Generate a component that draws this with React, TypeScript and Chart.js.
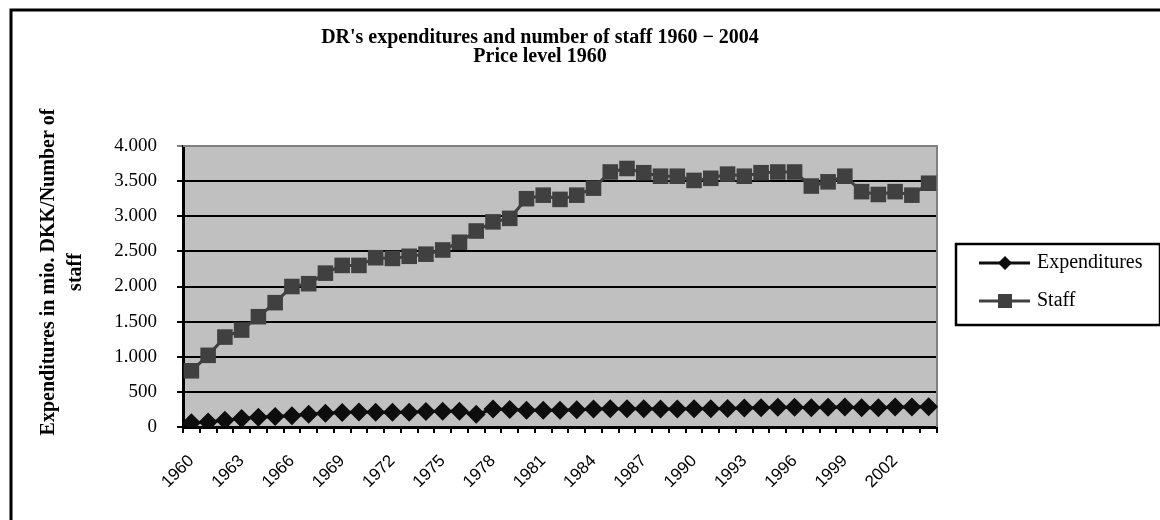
import React, { useEffect, useRef } from "react";
import { Chart, registerables } from "chart.js";

Chart.register(...registerables);

const years = [
  "1960", "1961", "1962", "1963", "1964", "1965", "1966", "1967", "1968", "1969",
  "1970", "1971", "1972", "1973", "1974", "1975", "1976", "1977", "1978", "1979",
  "1980", "1981", "1982", "1983", "1984", "1985", "1986", "1987", "1988", "1989",
  "1990", "1991", "1992", "1993", "1994", "1995", "1996", "1997", "1998", "1999",
  "2000", "2001", "2002", "2003", "2004",
];

const shownYearLabels = [
  "1960", "1963", "1966", "1969", "1972", "1975", "1978", "1981", "1984", "1987",
  "1990", "1993", "1996", "1999", "2002",
];

const expenditures = [
  60, 70, 95, 120, 140, 150, 160, 180, 195, 205,
  215, 210, 210, 210, 220, 225, 225, 180, 255, 250,
  240, 240, 240, 245, 255, 260, 260, 260, 255, 255,
  260, 260, 265, 270, 275, 280, 280, 275, 280, 285,
  275, 275, 285, 285, 290,
];

const staff = [
  800, 1020, 1280, 1380, 1570, 1770, 2000, 2040, 2190, 2300,
  2300, 2410, 2400, 2430, 2460, 2520, 2630, 2790, 2920, 2970,
  3250, 3300, 3240, 3300, 3400, 3630, 3680, 3620, 3570, 3570,
  3510, 3540, 3600, 3570, 3620, 3630, 3630, 3430, 3490, 3570,
  3350, 3310, 3350, 3300, 3470,
];

const titleLines = ["DR's expenditures and number of staff 1960 \u2212 2004", "Price level 1960"];
const yTitleLines = ["Expenditures in mio. DKK/Number of", "staff"];
const seriesNames = ["Expenditures", "Staff"];

const SERIF = "'Liberation Serif', 'Times New Roman', serif";
const SANS = "'Liberation Sans', Arial, sans-serif";
const EXP_COLOR = "#0d0d0d";
const STAFF_COLOR = "#404040";

function fmt(v: number): string {
  return String(Math.round(v)).replace(/\B(?=(\d{3})+(?!\d))/g, ".");
}

const decorPlugin = {
  id: "decor",
  beforeDraw(chart: any) {
    const { ctx, chartArea: a } = chart;
    ctx.save();
    ctx.fillStyle = "#ffffff";
    ctx.fillRect(0, 0, chart.width, chart.height);
    ctx.fillStyle = "#c0c0c0";
    ctx.fillRect(a.left, a.top, a.right - a.left, a.bottom - a.top);
    ctx.restore();
  },
  beforeDatasetsDraw(chart: any) {
    const { ctx, chartArea: a } = chart;
    ctx.save();
    ctx.strokeStyle = "#808080";
    ctx.lineWidth = 2;
    ctx.beginPath();
    ctx.moveTo(a.left, a.top);
    ctx.lineTo(a.right, a.top);
    ctx.lineTo(a.right, a.bottom);
    ctx.stroke();
    ctx.restore();
  },
  afterDraw(chart: any) {
    const { ctx } = chart;
    ctx.save();
    // outer frame
    ctx.strokeStyle = "#000";
    ctx.lineWidth = 3;
    ctx.beginPath();
    ctx.moveTo(11, 522);
    ctx.lineTo(11, 10);
    ctx.lineTo(1162, 10);
    ctx.stroke();

    // title
    ctx.fillStyle = "#000";
    ctx.font = `bold 20px ${SERIF}`;
    ctx.textAlign = "center";
    ctx.textBaseline = "middle";
    ctx.fillText(titleLines[0], 540, 38);
    ctx.fillText(titleLines[1], 540, 57);

    // y axis title
    ctx.save();
    ctx.font = `bold 20px ${SERIF}`;
    ctx.translate(49, 272);
    ctx.rotate(-Math.PI / 2);
    ctx.fillText(yTitleLines[0], 0, 0);
    ctx.fillText(yTitleLines[1], 0, 27);
    ctx.restore();

    // legend
    ctx.lineWidth = 2.5;
    ctx.strokeStyle = "#000";
    ctx.strokeRect(956, 244, 204, 81);
    const items = [
      { name: seriesNames[0], color: EXP_COLOR, y: 263, diamond: true },
      { name: seriesNames[1], color: STAFF_COLOR, y: 301, diamond: false },
    ];
    for (const it of items) {
      ctx.strokeStyle = it.color;
      ctx.fillStyle = it.color;
      ctx.lineWidth = 3;
      ctx.beginPath();
      ctx.moveTo(979, it.y);
      ctx.lineTo(1030, it.y);
      ctx.stroke();
      ctx.beginPath();
      if (it.diamond) {
        ctx.moveTo(1005, it.y - 7);
        ctx.lineTo(1012, it.y);
        ctx.lineTo(1005, it.y + 7);
        ctx.lineTo(998, it.y);
        ctx.closePath();
        ctx.fill();
      } else {
        ctx.fillRect(998, it.y - 7, 14, 14);
      }
      ctx.fillStyle = "#000";
      ctx.font = `20px ${SERIF}`;
      ctx.textAlign = "left";
      ctx.textBaseline = "middle";
      ctx.fillText(it.name, 1037, it.y);
    }
    ctx.restore();
  },
};

export default function App() {
  const ref = useRef<HTMLCanvasElement | null>(null);
  useEffect(() => {
    if (!ref.current) return;
    const chart = new Chart(ref.current, {
      type: "line",
      data: {
        labels: years,
        datasets: [
          {
            label: seriesNames[0],
            data: expenditures,
            borderColor: EXP_COLOR,
            backgroundColor: EXP_COLOR,
            borderWidth: 3,
            pointStyle: "rectRot",
            pointRadius: 9.5,
            pointBorderWidth: 0,
            tension: 0,
          },
          {
            label: seriesNames[1],
            data: staff,
            borderColor: STAFF_COLOR,
            backgroundColor: STAFF_COLOR,
            borderWidth: 3,
            pointStyle: "rect",
            pointRadius: 11,
            pointBorderWidth: 0,
            tension: 0,
          },
        ],
      },
      options: {
        responsive: false,
        animation: false,
        events: [],
        layout: { padding: { left: 0, right: 223, top: 146, bottom: 0 } },
        plugins: {
          legend: { display: false },
          title: { display: false },
          tooltip: { enabled: false },
        },
        scales: {
          x: {
            type: "category",
            offset: true,
            afterFit: (s: any) => {
              s.height = 93;
            },
            grid: {
              display: true,
              offset: true,
              drawOnChartArea: false,
              drawTicks: true,
              tickLength: 6,
              color: "#000",
              lineWidth: 2,
            },
            border: { display: true, color: "#000", width: 3 },
            ticks: {
              autoSkip: false,
              maxRotation: 45,
              minRotation: 45,
              padding: 18,
              color: "#000",
              font: { family: SANS, size: 17 },
              callback: (_v: any, i: number) =>
                shownYearLabels.includes(years[i]) ? years[i] : "",
            },
          },
          y: {
            min: 0,
            max: 4000,
            afterFit: (s: any) => {
              s.width = 183;
            },
            grid: {
              color: (c: any) => (c.tick && c.tick.value === 4000 ? "#808080" : "#000"),
              lineWidth: 2,
              drawTicks: true,
              tickLength: 6,
            },
            border: { display: true, color: "#000", width: 3 },
            ticks: {
              stepSize: 500,
              padding: 20,
              color: "#000",
              font: { family: SERIF, size: 19 },
              callback: (v: any) => fmt(Number(v)),
            },
          },
        },
      },
      plugins: [decorPlugin],
    });
    return () => chart.destroy();
  }, []);
  return (
    <div style={{ position: "absolute", left: 0, top: 0, width: 1160, height: 520 }}>
      <canvas ref={ref} width={1160} height={520} style={{ display: "block" }} />
    </div>
  );
}
